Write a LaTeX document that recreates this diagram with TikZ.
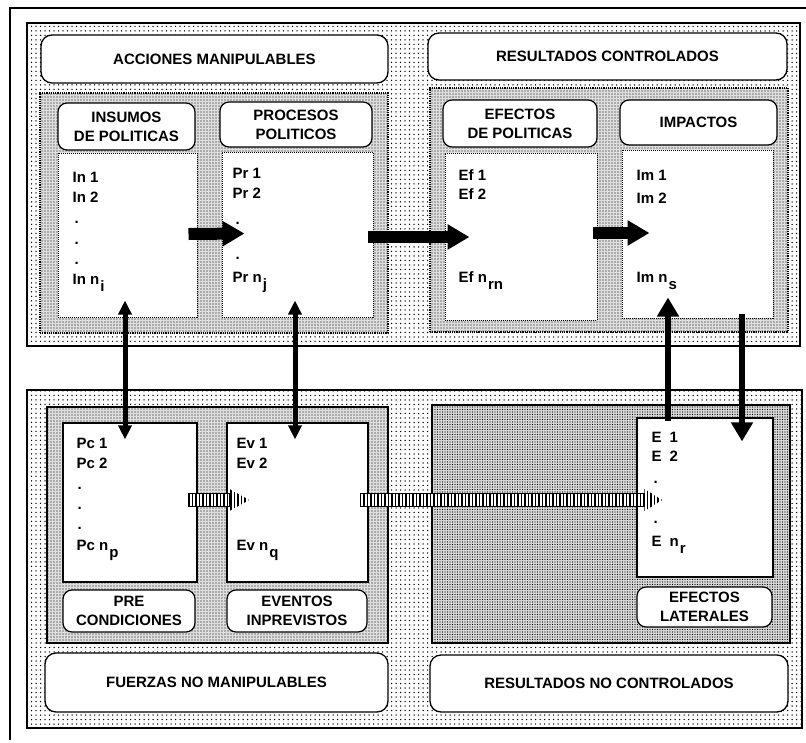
\documentclass[tikz,border=0pt]{standalone}
\usepackage{fontspec}
\setmainfont{Liberation Sans}
\usetikzlibrary{arrows.meta,calc,patterns.meta}
\newcommand\subl[1]{\kern1pt\raisebox{-7pt}{#1}}
\newcommand\stripearrow[3]{%
  \fill[white] ($(#1)+(0,-6.5)$) rectangle ($(#2)+(0,6.5)$);
  \fill[pattern={Lines[angle=90,distance=3.5pt,line width=1.6pt]}] ($(#1)+(0,-6.5)$) rectangle ($(#2)+(0,6.5)$);
  \draw[line width=1.4pt] ($(#1)+(0,-6.5)$) rectangle ($(#2)+(0,6.5)$);
  \fill[pattern={Lines[angle=90,distance=3.5pt,line width=1.6pt]}] ($(#2)+(0,-11)$) -- (#3) -- ($(#2)+(0,11)$) -- cycle;
}
\begin{document}
\begin{tikzpicture}[x=1pt,y=-1pt,
  every node/.style={font=\fontsize{15}{19}\selectfont\bfseries},
  outerpanel/.style={draw=black, line width=1.2pt, fill=white, postaction={pattern={Dots[distance=4.5pt,radius=0.75pt]}}},
  innerpanel/.style={draw=black, line width=1.2pt, fill=gray!25, postaction={pattern={Dots[distance=3pt,radius=0.7pt]}}},
  densepanel/.style={draw=black, line width=1.2pt, fill=gray!30, postaction={pattern={Dots[distance=2.5pt,radius=0.6pt]}}},
  titlebox/.style={draw, line width=1.3pt, rounded corners=11pt, fill=white, align=center, inner sep=0pt},
  headbox/.style={draw, line width=1.2pt, rounded corners=9pt, fill=white, align=center, inner sep=0pt},
  itembox/.style={draw, line width=1pt, densely dotted, fill=white, inner sep=0pt},
  litembox/.style={draw, line width=1.2pt, fill=white, inner sep=0pt},
  item/.style={anchor=base west, inner sep=0pt},
  bigarrow/.style={line width=12pt, -{Triangle[length=22pt,width=24pt]}},
  vline/.style={line width=5pt, {Triangle[length=14pt,width=13pt]}-{Triangle[length=14pt,width=13pt]}},
  sideline/.style={line width=6pt, -{Triangle[length=19pt,width=21pt]}}
]
\useasboundingbox (0,0) rectangle (806,742);
\fill[white] (0,0) rectangle (806,742);
% frame
\coordinate (fbl) at (10,740);
\coordinate (ftl) at (10,8);
\coordinate (ftr) at (806,8);
\draw[line width=1.5pt] (fbl) -- (ftl) -- (ftr);

% outer panels
\node[outerpanel, minimum width=773pt, minimum height=323pt] (upP) at (413.5,184.5) {};
\node[outerpanel, minimum width=775pt, minimum height=338pt] (loP) at (414.5,559) {};

% inner panels
\node[innerpanel, densely dotted, minimum width=348pt, minimum height=240pt] (ulI) at (214,213) {};
\node[innerpanel, densely dotted, minimum width=358pt, minimum height=244pt] (urI) at (609,210) {};
\node[innerpanel, minimum width=341pt, minimum height=236pt] (llI) at (217.5,525) {};
\node[densepanel, minimum width=358pt, minimum height=238pt] (lrI) at (611,524) {};

% titles
\node[titlebox, minimum width=347pt, minimum height=48pt] (acc) at (214.5,59) {ACCIONES MANIPULABLES};
\node[titlebox, minimum width=359pt, minimum height=47pt] (resC) at (607.5,56.5) {RESULTADOS CONTROLADOS};
\node[titlebox, minimum width=343pt, minimum height=59pt] (fuer) at (216.5,682.5) {FUERZAS NO MANIPULABLES};
\node[titlebox, minimum width=358pt, minimum height=57pt] (resNC) at (609,683.5) {RESULTADOS NO CONTROLADOS};

% headers
\node[headbox, minimum width=137pt, minimum height=47pt] (h1) at (126.5,126.5) {INSUMOS\\DE POLITICAS};
\node[headbox, minimum width=152pt, minimum height=45pt] (h2) at (296,124.5) {PROCESOS\\POLITICOS};
\node[headbox, minimum width=154pt, minimum height=47pt] (h3) at (520,123.5) {EFECTOS\\DE POLITICAS};
\node[headbox, minimum width=157pt, minimum height=45pt] (h4) at (698.5,122.5) {IMPACTOS};

% content boxes
\node[itembox, minimum width=139pt, minimum height=164pt] (c1) at (127.5,235) {};
\node[itembox, minimum width=151pt, minimum height=165pt] (c2) at (297.5,234.5) {};
\node[itembox, minimum width=152pt, minimum height=167pt] (c3) at (521,236.5) {};
\node[itembox, minimum width=151pt, minimum height=168pt] (c4) at (697.5,234) {};
\node[litembox, minimum width=134pt, minimum height=159pt] (c5) at (130,502.5) {};
\node[litembox, minimum width=141pt, minimum height=159pt] (c6) at (297.5,502.5) {};
\node[litembox, minimum width=136pt, minimum height=159pt] (c7) at (705,497.5) {};

% lower labels
\node[headbox, minimum width=132pt, minimum height=42pt] (l5) at (129,611) {PRE\\CONDICIONES};
\node[headbox, minimum width=140pt, minimum height=42pt] (l6) at (297,611) {EVENTOS\\INPREVISTOS};
\node[headbox, minimum width=135pt, minimum height=40pt] (l7) at (704.5,607) {EFECTOS\\LATERALES};

% items
\node[item] (in1) at ($(c1.north west)+(15,30)$) {In 1};
\node[item] (in2) at ($(c1.north west)+(15,50)$) {In 2};
\node[item] (ind1) at ($(c1.north west)+(17,71)$) {.};
\node[item] (ind2) at ($(c1.north west)+(17,92)$) {.};
\node[item] (ind3) at ($(c1.north west)+(17,112)$) {.};
\node[item] (inn) at ($(c1.north west)+(15,132)$) {In n\subl{i}};

\node[item] (pr1) at ($(c2.north west)+(11,27)$) {Pr 1};
\node[item] (pr2) at ($(c2.north west)+(11,47)$) {Pr 2};
\node[item] (prd1) at ($(c2.north west)+(14,73)$) {.};
\node[item] (prd2) at ($(c2.north west)+(14,108)$) {.};
\node[item] (prn) at ($(c2.north west)+(11,131)$) {Pr n\subl{j}};

\node[item] (ef1) at ($(c3.north west)+(14,28)$) {Ef 1};
\node[item] (ef2) at ($(c3.north west)+(14,47)$) {Ef 2};
\node[item] (efn) at ($(c3.north west)+(14,130)$) {Ef n\subl{rn}};

\node[item] (im1) at ($(c4.north west)+(15,31)$) {Im 1};
\node[item] (im2) at ($(c4.north west)+(15,54)$) {Im 2};
\node[item] (imn) at ($(c4.north west)+(15,133)$) {Im n\subl{s}};

\node[item] (pc1) at ($(c5.north west)+(14,26)$) {Pc 1};
\node[item] (pc2) at ($(c5.north west)+(14,46)$) {Pc 2};
\node[item] (pcd1) at ($(c5.north west)+(15,67)$) {.};
\node[item] (pcd2) at ($(c5.north west)+(15,87)$) {.};
\node[item] (pcd3) at ($(c5.north west)+(15,107)$) {.};
\node[item] (pcn) at ($(c5.north west)+(14,128)$) {Pc n\subl{p}};

\node[item] (ev1) at ($(c6.north west)+(10,26)$) {Ev 1};
\node[item] (ev2) at ($(c6.north west)+(10,46)$) {Ev 2};
\node[item] (evn) at ($(c6.north west)+(10,128)$) {Ev n\subl{q}};

\node[item] (e1) at ($(c7.north west)+(15,25)$) {E\hspace{8pt}1};
\node[item] (e2) at ($(c7.north west)+(15,44)$) {E\hspace{8pt}2};
\node[item] (ed1) at ($(c7.north west)+(17,66)$) {.};
\node[item] (ed2) at ($(c7.north west)+(17,106)$) {.};
\node[item] (en) at ($(c7.north west)+(15,129)$) {E\hspace{8pt}n\subl{r}};

% thick arrows
\draw[bigarrow] ($(c1.east)+(-9,-1)$) -- ($(c2.west)+(23,-1)$);
\draw[bigarrow] ($(c2.east)+(-6,2.5)$) -- ($(c3.west)+(25,0.5)$);
\draw[bigarrow] ($(c3.east)+(-5,-3.5)$) -- ($(c4.west)+(28,-1)$);

% vertical links
\draw[vline] ($(c1.south)+(-2.5,-17)$) -- ($(c5.north)+(-5,17)$);
\draw[vline] ($(c2.south)+(-2.5,-17)$) -- ($(c6.north)+(-2.5,17)$);
\draw[sideline] ($(c7.north)+(-37,4)$) -- ($(c4.south)+(-29.5,-21)$);
\draw[sideline] ($(c4.south)+(44.5,-5)$) -- ($(c7.north)+(37,24)$);

% striped arrows
\coordinate (s1a) at ($(c5.east)+(-9,-2.5)$);
\coordinate (s1b) at ($(c6.west)+(3,-2.5)$);
\coordinate (s1c) at ($(c6.west)+(23,-2.5)$);
\coordinate (s2a) at ($(c6.east)+(-8,-2.5)$);
\coordinate (s2b) at ($(c7.west)+(8,2.5)$);
\coordinate (s2c) at ($(c7.west)+(26,2.5)$);
\stripearrow{s1a}{s1b}{s1c}
\stripearrow{s2a}{s2b}{s2c}
\end{tikzpicture}
\end{document}
